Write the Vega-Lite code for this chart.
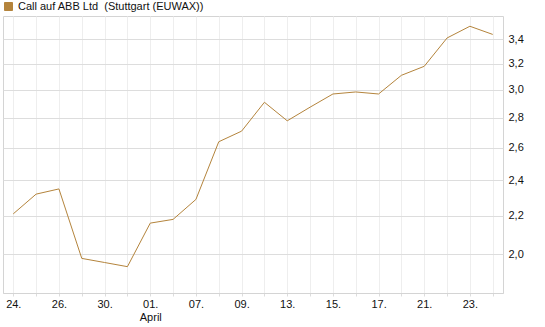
{
  "$schema": "https://vega.github.io/schema/vega-lite/v6.json",
  "autosize": {"type": "none"},
  "width": 500,
  "height": 277,
  "padding": {"left": 3, "top": 16, "right": 42, "bottom": 34},
  "background": "white",
  "config": {
    "font": "Liberation Sans",
    "view": {"stroke": "#d4d4d4", "strokeWidth": 1}
  },
  "data": {
    "values": [
      {"date": "2026-03-24", "series": "Call auf ABB Ltd\u00a0 (Stuttgart (EUWAX))", "price": 2.21},
      {"date": "2026-03-25", "series": "Call auf ABB Ltd\u00a0 (Stuttgart (EUWAX))", "price": 2.32},
      {"date": "2026-03-26", "series": "Call auf ABB Ltd\u00a0 (Stuttgart (EUWAX))", "price": 2.35},
      {"date": "2026-03-27", "series": "Call auf ABB Ltd\u00a0 (Stuttgart (EUWAX))", "price": 1.98},
      {"date": "2026-03-30", "series": "Call auf ABB Ltd\u00a0 (Stuttgart (EUWAX))", "price": 1.96},
      {"date": "2026-03-31", "series": "Call auf ABB Ltd\u00a0 (Stuttgart (EUWAX))", "price": 1.94},
      {"date": "2026-04-01", "series": "Call auf ABB Ltd\u00a0 (Stuttgart (EUWAX))", "price": 2.16},
      {"date": "2026-04-02", "series": "Call auf ABB Ltd\u00a0 (Stuttgart (EUWAX))", "price": 2.18},
      {"date": "2026-04-07", "series": "Call auf ABB Ltd\u00a0 (Stuttgart (EUWAX))", "price": 2.29},
      {"date": "2026-04-08", "series": "Call auf ABB Ltd\u00a0 (Stuttgart (EUWAX))", "price": 2.64},
      {"date": "2026-04-09", "series": "Call auf ABB Ltd\u00a0 (Stuttgart (EUWAX))", "price": 2.71},
      {"date": "2026-04-10", "series": "Call auf ABB Ltd\u00a0 (Stuttgart (EUWAX))", "price": 2.91},
      {"date": "2026-04-13", "series": "Call auf ABB Ltd\u00a0 (Stuttgart (EUWAX))", "price": 2.78},
      {"date": "2026-04-14", "series": "Call auf ABB Ltd\u00a0 (Stuttgart (EUWAX))", "price": 2.875},
      {"date": "2026-04-15", "series": "Call auf ABB Ltd\u00a0 (Stuttgart (EUWAX))", "price": 2.97},
      {"date": "2026-04-16", "series": "Call auf ABB Ltd\u00a0 (Stuttgart (EUWAX))", "price": 2.985},
      {"date": "2026-04-17", "series": "Call auf ABB Ltd\u00a0 (Stuttgart (EUWAX))", "price": 2.97},
      {"date": "2026-04-20", "series": "Call auf ABB Ltd\u00a0 (Stuttgart (EUWAX))", "price": 3.11},
      {"date": "2026-04-21", "series": "Call auf ABB Ltd\u00a0 (Stuttgart (EUWAX))", "price": 3.18},
      {"date": "2026-04-22", "series": "Call auf ABB Ltd\u00a0 (Stuttgart (EUWAX))", "price": 3.41},
      {"date": "2026-04-23", "series": "Call auf ABB Ltd\u00a0 (Stuttgart (EUWAX))", "price": 3.51},
      {"date": "2026-04-24", "series": "Call auf ABB Ltd\u00a0 (Stuttgart (EUWAX))", "price": 3.44}
    ]
  },
  "mark": {"type": "line", "strokeWidth": 1, "interpolate": "linear"},
  "encoding": {
    "x": {
      "field": "date",
      "type": "ordinal",
      "sort": "ascending",
      "scale": {"type": "point", "padding": 0.45},
      "axis": {
        "title": null,
        "labelAngle": 0,
        "labelFontSize": 11,
        "labelColor": "#111111",
        "labelFont": "Liberation Sans",
        "labelPadding": 2,
        "labelLineHeight": 13,
        "tickSize": 3,
        "tickColor": "#dddddd",
        "domainColor": "#d4d4d4",
        "grid": true,
        "gridColor": "#eeeeee",
        "labelOverlap": false,
        "labelExpr": "datum.value == '2026-04-01' ? ['01.', 'April'] : (indexof(['2026-03-24','2026-03-26','2026-03-30','2026-04-07','2026-04-09','2026-04-13','2026-04-15','2026-04-17','2026-04-21','2026-04-23'], datum.value) >= 0 ? substring(datum.value, 8, 10) + '.' : '')"
      }
    },
    "y": {
      "field": "price",
      "type": "quantitative",
      "scale": {"type": "log", "domain": [1.818, 3.6], "nice": false, "zero": false},
      "axis": {
        "orient": "right",
        "title": null,
        "values": [2.0, 2.2, 2.4, 2.6, 2.8, 3.0, 3.2, 3.4],
        "labelExpr": "replace(format(datum.value, '.1f'), '.', ',')",
        "labelFontSize": 11,
        "labelColor": "#111111",
        "labelFont": "Liberation Sans",
        "tickSize": 0,
        "labelPadding": 5,
        "domain": false,
        "grid": true,
        "gridColor": "#dddddd"
      }
    },
    "color": {
      "field": "series",
      "type": "nominal",
      "scale": {"range": ["#b4843c"]},
      "legend": {
        "title": null,
        "orient": "none",
        "legendX": 0,
        "legendY": -15,
        "symbolType": "square",
        "symbolSize": 64,
        "symbolStrokeWidth": 1,
        "symbolStrokeColor": "#555555",
        "symbolFillColor": "#b4843c",
        "labelFontSize": 11,
        "labelFont": "Liberation Sans",
        "labelColor": "#111111",
        "labelLimit": 0,
        "labelOffset": 4,
        "padding": 0,
        "encode": {
          "symbols": {"update": {"fill": {"value": "#b4843c"}, "stroke": {"value": "#555555"}, "strokeWidth": {"value": 1}, "opacity": {"value": 1}}}
        }
      }
    }
  }
}
